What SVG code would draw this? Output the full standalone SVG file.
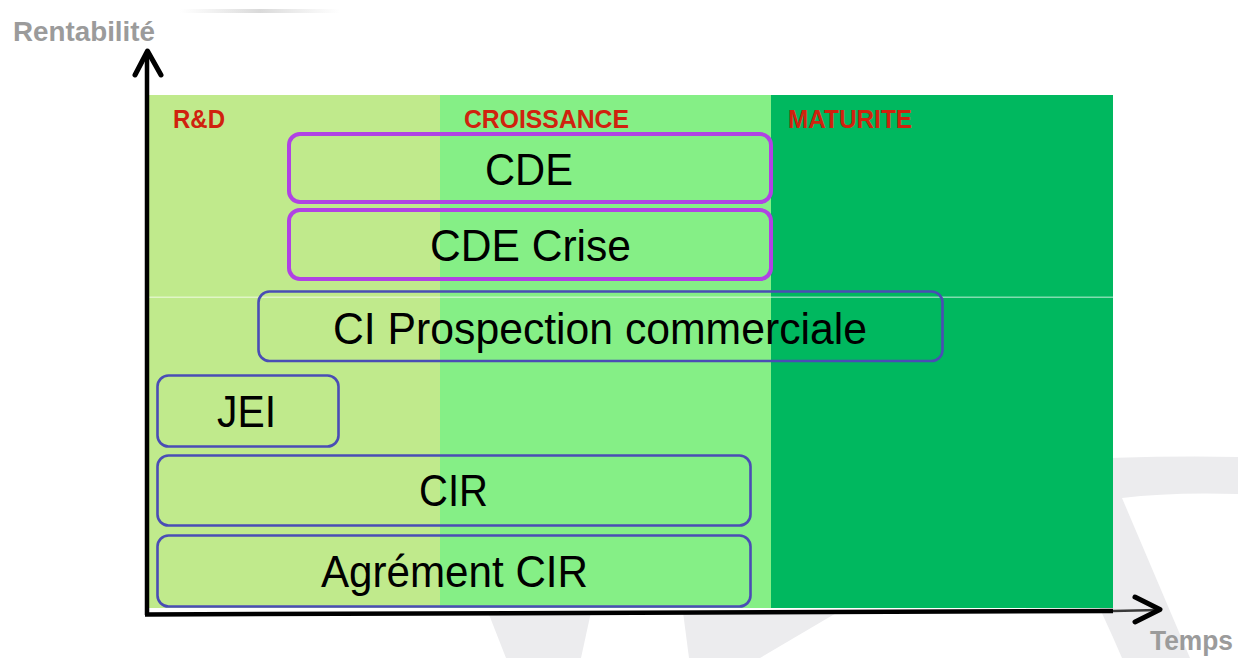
<svg xmlns="http://www.w3.org/2000/svg" width="1238" height="658" viewBox="0 0 1238 658">
  <defs>
    <style>
      .wm { fill: #ececee; }
      .zone-rd { fill: #c0ea8c; }
      .zone-cr { fill: #85ef86; }
      .zone-ma { fill: #00b85f; }
      .phase { font-family: "Liberation Sans", Arial, sans-serif; font-weight: bold; font-size: 25px; fill: #d0220e; }
      .axis-label { font-family: "Liberation Sans", Arial, sans-serif; font-weight: bold; font-size: 28px; fill: #9b9b9b; }
      .box-purple { fill: none; stroke: #b042e4; stroke-width: 4; }
      .box-blue { fill: none; stroke: #4a4db5; stroke-width: 2.6; }
      .box-text { font-family: "Liberation Sans", Arial, sans-serif; font-size: 44px; fill: #000; text-anchor: middle; }
      .axis { stroke: #000; stroke-width: 4.5; fill: none; }
      .arrowhead { stroke: #000; stroke-width: 5; fill: none; stroke-linecap: round; stroke-linejoin: round; }
    </style>
    <linearGradient id="shadow" x1="0" y1="0" x2="1" y2="0">
      <stop offset="0" stop-color="#d8d8d8" stop-opacity="0"/>
      <stop offset="0.5" stop-color="#d0d0d0" stop-opacity="0.8"/>
      <stop offset="1" stop-color="#d8d8d8" stop-opacity="0"/>
    </linearGradient>
  </defs>

  <rect x="0" y="0" width="1238" height="658" fill="#ffffff"/>

  <!-- faint background watermark -->
  <g id="watermark">
    <path class="wm" d="M1040,462 Q1140,455 1238,457 L1238,494 Q1170,492 1122,498 L1190,658 L1122,658 Q1080,560 1040,500 Z"/>
    <polygon class="wm" points="488,612 591,612 581,658 506,658"/>
    <polygon class="wm" points="683,612 838,612 760,658 689,658"/>
    <rect x="180" y="9" width="160" height="4" fill="url(#shadow)"/>
  </g>

  <!-- phase zones -->
  <g id="zones">
    <rect class="zone-rd" x="149" y="95" width="291" height="513"/>
    <rect class="zone-cr" x="440" y="95" width="331" height="513"/>
    <rect class="zone-ma" x="771" y="95" width="342" height="513"/>
    <rect x="149" y="296.5" width="964" height="1.5" fill="#ffffff" opacity="0.5"/>
    <text class="phase" x="173" y="128" textLength="52" lengthAdjust="spacingAndGlyphs">R&amp;D</text>
    <text class="phase" x="464" y="128" textLength="165" lengthAdjust="spacingAndGlyphs">CROISSANCE</text>
    <text class="phase" x="788" y="128" textLength="124" lengthAdjust="spacingAndGlyphs">MATURITE</text>
  </g>

  <!-- nodes -->
  <g id="node-cde">
    <rect class="box-purple" x="289" y="134" width="482" height="68" rx="11"/>
    <text class="box-text" x="529" y="185" textLength="88" lengthAdjust="spacingAndGlyphs">CDE</text>
  </g>
  <g id="node-cde-crise">
    <rect class="box-purple" x="289" y="210" width="482" height="69" rx="11"/>
    <text class="box-text" x="530.5" y="261" textLength="201" lengthAdjust="spacingAndGlyphs">CDE Crise</text>
  </g>
  <g id="node-ci-prospection">
    <rect class="box-blue" x="258.5" y="291.5" width="684" height="69.5" rx="11"/>
    <text class="box-text" x="600" y="344" textLength="534" lengthAdjust="spacingAndGlyphs">CI Prospection commerciale</text>
  </g>
  <g id="node-jei">
    <rect class="box-blue" x="157.5" y="375.5" width="181" height="71" rx="11"/>
    <text class="box-text" x="246.5" y="427" textLength="59" lengthAdjust="spacingAndGlyphs">JEI</text>
  </g>
  <g id="node-cir">
    <rect class="box-blue" x="157.5" y="455.5" width="593" height="70" rx="11"/>
    <text class="box-text" x="453.5" y="506" textLength="69" lengthAdjust="spacingAndGlyphs">CIR</text>
  </g>
  <g id="node-agrement-cir">
    <rect class="box-blue" x="157.5" y="535.5" width="593" height="71" rx="11"/>
    <text class="box-text" x="454.5" y="587" textLength="267" lengthAdjust="spacingAndGlyphs">Agrément CIR</text>
  </g>

  <!-- axes -->
  <g id="connectors">
    <line class="axis" x1="147" y1="52" x2="147" y2="615"/>
    <line class="axis" x1="145" y1="614.5" x2="1113" y2="611"/>
    <line x1="1113" y1="611" x2="1158" y2="610" stroke="#3a3a3a" stroke-width="2.5"/>
    <polyline class="arrowhead" points="135,75 147.5,51 161,75"/>
    <polyline class="arrowhead" points="1135,597 1160,609.5 1135,622"/>
  </g>

  <g id="axis-labels">
    <text class="axis-label" x="13" y="41" textLength="142" lengthAdjust="spacingAndGlyphs">Rentabilité</text>
    <text class="axis-label" x="1150" y="650" textLength="83" lengthAdjust="spacingAndGlyphs">Temps</text>
  </g>
</svg>
